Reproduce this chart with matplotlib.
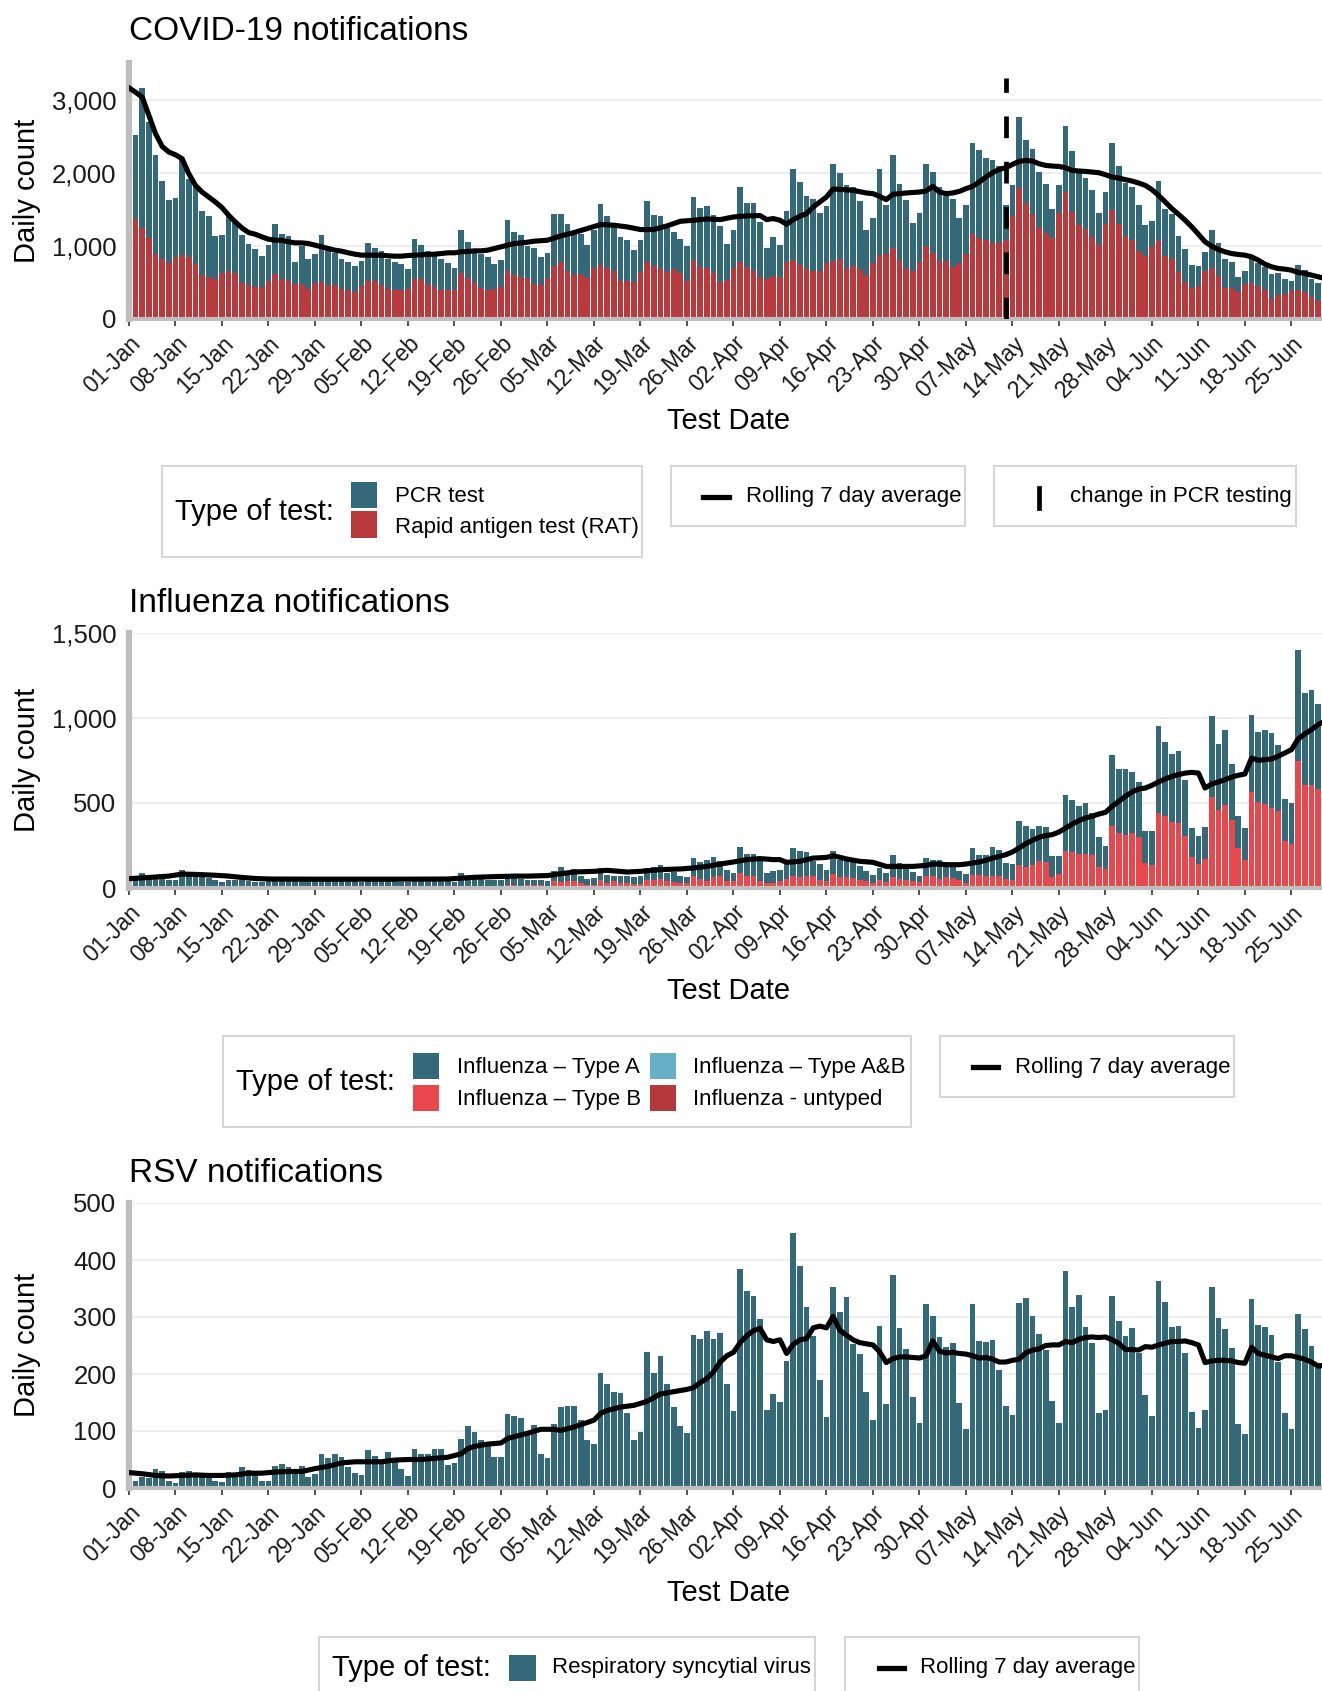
import numpy as np
import matplotlib.pyplot as plt
from matplotlib.patches import Rectangle
from matplotlib.lines import Line2D
from matplotlib.ticker import FuncFormatter

plt.rcParams['font.family'] = ['Liberation Sans', 'DejaVu Sans']

W, H = 1322, 1691

# ── Axis labels ────────────────────────────────────────────
tick_labels = ["01-Jan", "08-Jan", "15-Jan", "22-Jan", "29-Jan", "05-Feb", "12-Feb",
               "19-Feb", "26-Feb", "05-Mar", "12-Mar", "19-Mar", "26-Mar", "02-Apr",
               "09-Apr", "16-Apr", "23-Apr", "30-Apr", "07-May", "14-May", "21-May",
               "28-May", "04-Jun", "11-Jun", "18-Jun", "25-Jun"]
tick_days = np.arange(0, 7 * len(tick_labels), 7)   # days since 01-Jan
days = np.arange(1, 181)                              # 02-Jan .. 30-Jun

# ── COVID-19 (stack top = all tests, RAT on the bottom) ────
covid_total = [
    2509, 3155, 2690, 2245, 1882, 1623, 1655,
    2205, 1909, 1805, 1473, 1405, 1132, 1155,
    1441, 1318, 1145, 1032, 955, 859, 1009,
    1305, 1168, 1136, 782, 1000, 818, 886,
    1155, 955, 905, 827, 782, 723, 791,
    1041, 964, 927, 814, 780, 750, 677,
    1091, 1009, 932, 882, 827, 760, 700,
    1223, 1055, 909, 895, 850, 750, 805,
    1350, 1191, 1145, 1000, 973, 850, 909,
    1441, 1432, 1295, 1191, 1168, 1009, 1214,
    1568, 1409, 1318, 1123, 1086, 941, 1077,
    1614, 1427, 1409, 1259, 1191, 1100, 1000,
    1668, 1523, 1541, 1418, 1268, 1023, 1214,
    1805, 1586, 1591, 1327, 973, 1123, 1009,
    1473, 2055, 1873, 1682, 1645, 1450, 1545,
    2123, 2000, 1827, 1805, 1614, 1223, 1382,
    2055, 1564, 2245, 1841, 1623, 1318, 1450,
    2114, 2009, 1805, 1677, 1645, 1382, 1564,
    2409, 2305, 2205, 2168, 2086, 1559, 1836,
    2759, 2441, 2327, 2009, 1841, 1509, 1827,
    2645, 2291, 2055, 1932, 1768, 1455, 1736,
    2405, 2086, 1864, 1805, 1564, 1282, 1341,
    1886, 1500, 1432, 1136, 955, 736, 723,
    918, 1214, 1041, 814, 773, 568, 659,
    827, 768, 714, 609, 623, 545, 523,
    745, 668, 545, 495, 418]
covid_rat = [
    1373, 1250, 1109, 895, 814, 759, 850,
    873, 850, 750, 600, 568, 541, 623,
    659, 623, 486, 464, 432, 432, 523,
    609, 545, 518, 477, 477, 409, 486,
    509, 464, 459, 409, 395, 373, 450,
    523, 523, 464, 409, 400, 395, 405,
    541, 541, 477, 441, 395, 395, 400,
    623, 564, 486, 420, 395, 405, 441,
    655, 600, 577, 555, 473, 464, 564,
    723, 773, 659, 600, 614, 555, 691,
    745, 700, 655, 518, 518, 509, 636,
    782, 723, 691, 645, 682, 623, 520,
    805, 714, 691, 623, 509, 532, 691,
    782, 714, 655, 568, 545, 586, 577,
    782, 805, 736, 677, 659, 659, 759,
    791, 814, 677, 723, 677, 595, 759,
    873, 895, 964, 805, 691, 659, 773,
    995, 905, 795, 795, 714, 759, 895,
    1168, 1114, 1086, 1041, 1041, 1077, 1409,
    1791, 1586, 1432, 1250, 1177, 1114, 1450,
    1736, 1464, 1282, 1227, 1123, 1018, 1305,
    1486, 1295, 1132, 1077, 927, 864, 995,
    1086, 864, 818, 645, 509, 427, 450,
    655, 691, 586, 427, 427, 373, 473,
    486, 450, 395, 273, 327, 336, 382,
    395, 364, 295, 259, 214]
covid_avg_days = list(range(0, 61)) + [
    61, 63, 65, 67, 69, 71, 73, 75, 77, 79, 81, 83, 85, 87, 89, 91, 93, 95, 96,
    97, 98, 99, 100, 101, 102, 103, 105, 106, 107, 109, 111, 112, 113, 114, 115,
    117, 119] + list(range(120, 181))
covid_avg = [
    3160, 3100, 3032, 2782, 2532, 2359, 2282, 2245, 2191, 1986,
    1827, 1736, 1668, 1600, 1523, 1418, 1327, 1245, 1182, 1159,
    1123, 1091, 1077, 1077, 1055, 1041, 1041, 1032, 1009, 986,
    964, 941, 927, 905, 886, 873, 873, 873, 873, 864,
    859, 859, 868, 873, 877, 882, 886, 895, 905, 905,
    918, 923, 932, 932, 941, 964, 986, 1009, 1032, 1040,
    1050,
    1064, 1077, 1136, 1182, 1236, 1291, 1282, 1259, 1223, 1223,
    1273, 1336, 1350, 1368, 1359, 1395, 1409, 1414, 1359, 1373,
    1350, 1295, 1359, 1405, 1441, 1532, 1668, 1777, 1773, 1759,
    1723, 1714, 1677, 1632, 1705, 1723, 1736,
    1750, 1814, 1736, 1714, 1723, 1745, 1782, 1814, 1873, 1941,
    2000, 2045, 2068, 2114, 2155, 2168, 2159, 2123, 2100, 2091,
    2086, 2068, 2032, 2023, 2018, 2009, 2000, 1973, 1941, 1927,
    1905, 1886, 1859, 1827, 1768, 1691, 1600, 1509, 1432, 1350,
    1259, 1159, 1055, 995, 950, 918, 895, 882, 873, 850,
    805, 750, 714, 691, 682, 668, 636, 623, 600, 577,
    555]
pcr_change_day = 132        # 13-May
pcr_change_top = 3290

# ── Influenza (stack tops) ─────────────────────────────────
flu_total = [
    50, 88, 78, 60, 55, 50, 50,
    104, 75, 70, 65, 60, 50, 35,
    50, 45, 45, 40, 38, 35, 40,
    65, 50, 62, 50, 45, 40, 40,
    55, 50, 48, 45, 45, 40, 38,
    60, 50, 48, 45, 42, 35, 38,
    55, 50, 52, 45, 42, 40, 38,
    88, 60, 55, 52, 50, 45, 45,
    85, 60, 55, 49, 49, 49, 39,
    98, 122, 102, 112, 73, 53, 59,
    118, 78, 73, 73, 69, 65, 69,
    118, 124, 137, 88, 94, 73, 65,
    176, 151, 167, 182, 161, 108, 88,
    241, 202, 200, 157, 88, 102, 108,
    157, 235, 216, 212, 157, 141, 104,
    216, 167, 163, 151, 127, 102, 78,
    118, 88, 192, 147, 112, 96, 73,
    176, 167, 167, 153, 127, 102, 84,
    235, 192, 196, 239, 222, 147, 141,
    392, 367, 349, 367, 357, 190, 186,
    549, 520, 480, 500, 441, 300, 245,
    780, 702, 700, 680, 622, 337, 337,
    951, 859, 790, 808, 637, 353, 308,
    359, 1010, 847, 931, 731, 422, 353,
    1020, 916, 927, 912, 843, 525, 500,
    1402, 1147, 1163, 1082, 1049]
# top of the red (Type B + untyped) part of each bar
flu_b_top = [
    3, 4, 4, 3, 3, 3, 3,
    4, 3, 3, 3, 3, 3, 2,
    3, 3, 3, 2, 2, 2, 2,
    4, 3, 4, 3, 3, 2, 2,
    5, 4, 4, 4, 3, 3, 3,
    6, 5, 5, 4, 4, 3, 3,
    8, 6, 6, 5, 5, 4, 4,
    14, 10, 9, 8, 8, 7, 7,
    18, 15, 14, 20, 18, 15, 12,
    39, 35, 39, 39, 29, 20, 20,
    45, 29, 39, 30, 29, 25, 25,
    49, 49, 55, 39, 35, 29, 29,
    69, 55, 39, 65, 69, 39, 39,
    88, 69, 69, 43, 29, 29, 39,
    53, 73, 63, 69, 69, 49, 39,
    84, 65, 65, 59, 45, 39, 29,
    49, 35, 63, 53, 49, 39, 35,
    69, 69, 55, 63, 59, 49, 29,
    75, 78, 69, 69, 69, 55, 49,
    137, 122, 137, 157, 153, 65, 84,
    216, 210, 200, 200, 192, 124, 112,
    367, 324, 314, 324, 298, 147, 137,
    441, 425, 388, 382, 308, 180, 141,
    171, 533, 461, 490, 402, 235, 163,
    563, 504, 496, 471, 451, 275, 261,
    749, 608, 604, 584, 549]
# untyped: thin dark strip at the bottom, only visible from mid-May
flu_untyped_days = [141, 142, 143, 144, 145, 148, 149, 150, 151, 152, 155, 156, 157,
                    158, 159, 163, 164, 165, 166, 169, 170, 171, 172, 173, 176, 177,
                    178, 179, 180]
flu_untyped_vals = [8, 10, 8, 8, 6, 10, 12, 10, 10, 8, 12, 10, 10,
                    10, 8, 10, 12, 10, 8, 12, 10, 10, 8, 8, 14, 12,
                    10, 10, 10]
# Type A&B: no visible counts
flu_avg_days = [0, 3, 6, 8, 10, 13, 15, 17, 19, 21, 28, 35, 42, 48, 50, 52, 55, 58,
                60, 63, 65, 67, 70, 72, 75, 77, 80, 83, 85, 87, 89, 91, 93, 95, 97,
                98, 99, 101, 103, 105, 106, 108, 110, 112, 114, 116, 118] + list(range(120, 181))
flu_avg = [
    55, 62, 70, 82, 80, 75, 70, 62, 56, 53, 52, 52, 52, 53, 58, 63, 67, 70,
    70, 73, 84, 94, 98, 104, 94, 98, 108, 112, 118, 127, 141, 153, 167, 173, 167,
    167, 151, 157, 176, 180, 190, 171, 157, 151, 127, 127, 127,
    133, 141, 141, 137, 137, 137, 141, 147, 153, 163,
    176, 186, 196, 212, 235, 261, 280, 298, 308, 314,
    329, 353, 376, 396, 412, 422, 435, 445, 480, 510,
    539, 565, 582, 588, 604, 624, 641, 657, 667, 676,
    680, 676, 588, 612, 624, 637, 653, 663, 671, 765,
    751, 755, 759, 775, 794, 814, 876, 906, 931, 961,
    980]

# ── RSV ────────────────────────────────────────────────────
rsv = [
    12, 19, 18, 34, 30, 12, 9,
    28, 30, 25, 21, 27, 13, 11,
    28, 25, 37, 31, 28, 12, 12,
    39, 42, 36, 32, 39, 19, 25,
    59, 53, 60, 54, 37, 27, 23,
    66, 57, 44, 63, 49, 34, 21,
    69, 59, 59, 69, 68, 40, 44,
    86, 108, 98, 84, 81, 54, 54,
    129, 126, 122, 93, 111, 60, 53,
    113, 142, 144, 144, 119, 85, 78,
    202, 182, 169, 166, 132, 84, 98,
    239, 201, 232, 182, 142, 109, 97,
    268, 262, 275, 262, 272, 182, 135,
    384, 346, 337, 296, 136, 165, 151,
    223, 447, 390, 318, 267, 189, 124,
    352, 308, 335, 252, 235, 169, 119,
    285, 148, 374, 281, 243, 160, 114,
    322, 302, 265, 247, 255, 150, 103,
    322, 258, 257, 260, 207, 144, 128,
    324, 333, 302, 270, 242, 152, 114,
    381, 318, 339, 283, 255, 132, 136,
    336, 293, 267, 281, 236, 164, 126,
    364, 327, 283, 284, 236, 134, 106,
    136, 352, 299, 279, 246, 112, 94,
    332, 286, 283, 268, 221, 132, 103,
    306, 279, 250, 219, 224]
rsv_avg_days = list(range(0, 50, 2)) + [50, 51, 52, 54, 56, 57, 58, 60, 62, 64, 65, 67,
                                        69, 70, 71, 72, 74, 76, 78, 80, 82, 84, 85] \
    + list(range(86, 181))
rsv_avg = [
    27, 25, 22, 21, 22, 23, 22, 22, 23, 26, 26, 28, 29, 29, 34, 38, 44, 46, 46, 46,
    49, 50, 50, 52, 54,
    60, 69, 73, 77, 79, 87, 90, 96, 103, 103, 101, 107,
    115, 119, 131, 136, 142, 145, 152, 165, 169, 173, 176,
    185, 192, 204, 221, 232, 238, 255, 267, 276, 280,
    260, 257, 260, 236, 252, 260, 262, 281, 284, 281,
    301, 277, 268, 260, 255, 253, 251, 239, 220, 227,
    230, 230, 229, 228,
    232, 258, 240, 237, 238, 236, 235, 232, 228, 229,
    226, 221, 221, 224, 226, 237, 242, 244, 250, 251,
    251, 257, 255, 261, 264, 265, 264, 265, 260, 254,
    243, 243, 242, 248, 247, 251, 254, 257, 257, 258,
    255, 251, 220, 223, 224, 224, 223, 220, 219, 247,
    236, 233, 230, 227, 232, 232, 229, 226, 221, 214,
    215]

# ── Colours ────────────────────────────────────────────────
TEAL = "#336979"
RAT_RED = "#B83A3D"
FLU_B = "#E8484B"
FLU_AB = "#66AFC6"
FLU_UNT = "#B5393C"
BOX_EDGE = "#D6D6D6"
BAR_W = 0.86
AVG_LW = 3.7

fig = plt.figure(figsize=(W / 100, H / 100), dpi=100)


def fx(px):
    return px / W


def fy(py):
    return 1 - py / H


def panel(top, bottom, ymax, yticks):
    ax = fig.add_axes([fx(129), fy(bottom), fx(W - 129), (bottom - top) / H])
    ax.set_xlim(0, 179.6)
    ax.set_ylim(0, ymax)
    ax.set_yticks(yticks)
    ax.yaxis.set_major_formatter(FuncFormatter(lambda v, p: f"{int(v):,}"))
    ax.set_xticks(tick_days)
    ax.set_xticklabels(tick_labels, rotation=45, ha="right", va="top",
                       rotation_mode="anchor", fontsize=16.5, color="#1a1a1a")
    ax.tick_params(axis="y", length=0, labelsize=18.5, pad=9, labelcolor="#1a1a1a")
    ax.tick_params(axis="x", length=5, width=1.2, color="#333333", pad=4)
    for s in ["top", "right"]:
        ax.spines[s].set_visible(False)
    ax.spines["left"].set_color("#BEBEBE")
    ax.spines["left"].set_linewidth(4.5)
    ax.spines["bottom"].set_color("#BEBEBE")
    ax.spines["bottom"].set_linewidth(3)
    ax.grid(axis="y", color="#EBEBEB", lw=1.2)
    ax.set_axisbelow(True)
    return ax


def ftext(x, y, s, size, **kw):
    fig.text(fx(x), fy(y), s, fontsize=size, va="center", **kw)


def box(x0, y0, x1, y1):
    fig.patches.append(Rectangle((fx(x0), fy(y1)), (x1 - x0) / W, (y1 - y0) / H,
                                 transform=fig.transFigure, fill=False,
                                 ec=BOX_EDGE, lw=1.5))


def key(x0, y0, x1, y1, color):
    fig.patches.append(Rectangle((fx(x0), fy(y1)), (x1 - x0) / W, (y1 - y0) / H,
                                 transform=fig.transFigure, fc=color, ec="none"))


def line_key(x0, x1, y):
    fig.lines.append(Line2D([fx(x0), fx(x1)], [fy(y), fy(y)], transform=fig.transFigure,
                            color="black", lw=3.8))


# ── 1. COVID-19 ────────────────────────────────────────────
ftext(129, 32, "COVID-19 notifications", 24)
ax1 = panel(63, 319, 3500, [0, 1000, 2000, 3000])
total = np.array(covid_total)
rat = np.array(covid_rat)
ax1.bar(days, rat, width=BAR_W, color=RAT_RED, lw=0)
ax1.bar(days, total - rat, bottom=rat, width=BAR_W, color=TEAL, lw=0)
ax1.plot(covid_avg_days, covid_avg, color="black", lw=AVG_LW, zorder=4,
         solid_joinstyle="round")
ax1.vlines(pcr_change_day, 0, pcr_change_top, colors="black", lw=3.4,
           linestyles=(0, (4.6, 5.0)), zorder=5)
ftext(27, 191, "Daily count", 21, rotation=90, ha="center")
ftext(729, 421, "Test Date", 21, ha="center")

box(162, 466, 642, 557)
ftext(175, 512, "Type of test:", 21)
key(351, 482, 377, 508, TEAL)
key(351, 511, 377, 538, RAT_RED)
ftext(395, 497, "PCR test", 16)
ftext(395, 527, "Rapid antigen test (RAT)", 16)
box(671, 466, 965, 526)
line_key(703, 729, 497)
ftext(746, 497, "Rolling 7 day average", 16)
box(994, 466, 1296, 526)
fig.lines.append(Line2D([fx(1039), fx(1039)], [fy(488), fy(508)],
                        transform=fig.transFigure, color="black", lw=3.4))
ftext(1070, 497, "change in PCR testing", 16)

# ── 2. Influenza ───────────────────────────────────────────
ftext(129, 603, "Influenza notifications", 24)
ax2 = panel(633, 888, 1500, [0, 500, 1000, 1500])
untyped = np.zeros(len(days))
untyped[np.array(flu_untyped_days) - 1] = flu_untyped_vals
b_top = np.array(flu_b_top)
ftot = np.array(flu_total)
ax2.bar(days, untyped, width=BAR_W, color=FLU_UNT, lw=0)
ax2.bar(days, b_top - untyped, bottom=untyped, width=BAR_W, color=FLU_B, lw=0)
ax2.bar(days, ftot - b_top, bottom=b_top, width=BAR_W, color=TEAL, lw=0)
ax2.plot(flu_avg_days, flu_avg, color="black", lw=AVG_LW, zorder=4,
         solid_joinstyle="round")
ftext(27, 760, "Daily count", 21, rotation=90, ha="center")
ftext(729, 991, "Test Date", 21, ha="center")

box(223, 1036, 911, 1127)
ftext(236, 1082, "Type of test:", 21)
key(413, 1053, 439, 1079, TEAL)
key(413, 1085, 439, 1111, FLU_B)
key(650, 1053, 676, 1079, FLU_AB)
key(650, 1085, 676, 1111, FLU_UNT)
ftext(457, 1067, "Influenza \u2013 Type A", 16)
ftext(457, 1099, "Influenza \u2013 Type B", 16)
ftext(693, 1067, "Influenza \u2013 Type A&B", 16)
ftext(693, 1099, "Influenza - untyped", 16)
box(940, 1036, 1234, 1097)
line_key(973, 998, 1067)
ftext(1015, 1067, "Rolling 7 day average", 16)

# ── 3. RSV ─────────────────────────────────────────────────
ftext(129, 1173, "RSV notifications", 24)
ax3 = panel(1203, 1488, 500, [0, 100, 200, 300, 400, 500])
ax3.bar(days, rsv, width=BAR_W, color=TEAL, lw=0)
ax3.plot(rsv_avg_days, rsv_avg, color="black", lw=AVG_LW, zorder=4,
         solid_joinstyle="round")
ftext(27, 1345, "Daily count", 21, rotation=90, ha="center")
ftext(729, 1593, "Test Date", 21, ha="center")

box(319, 1637, 815, 1705)
ftext(332, 1668, "Type of test:", 21)
key(509, 1655, 536, 1681, TEAL)
ftext(552, 1668, "Respiratory syncytial virus", 16)
box(845, 1637, 1139, 1705)
line_key(879, 904, 1668)
ftext(920, 1668, "Rolling 7 day average", 16)

fig.savefig("out.png", dpi=100)
